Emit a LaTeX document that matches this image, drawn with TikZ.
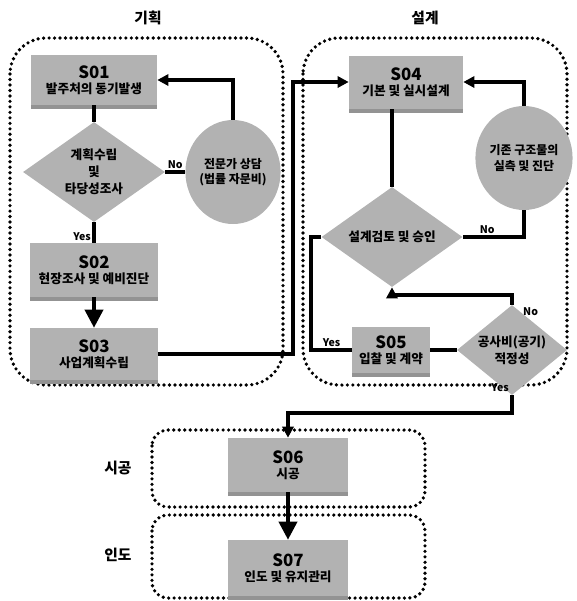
\documentclass[tikz,border=0pt]{standalone}
\usepackage{fontspec}
\setmainfont{Noto Sans CJK KR}
\usetikzlibrary{shapes}
\usetikzlibrary{shapes.geometric}
\usetikzlibrary{shadows}
\usetikzlibrary{arrows.meta}
\usetikzlibrary{positioning}

\newcommand{\steplabel}[2]{{\fontsize{12}{13}\selectfont #1}\\#2}

\begin{document}
\begin{tikzpicture}[x=0.25mm, y=-0.25mm]
	\tikzset{stepbox/.style = {shape=rectangle, fill=gray!60, inner sep=0pt, align=center,
			font=\fontsize{9}{11}\selectfont\bfseries,
			drop shadow={shadow xshift=0pt, shadow yshift=-1mm, fill=gray!85, opacity=1}}}
	\tikzset{decision/.style = {shape=diamond, fill=gray!60, inner sep=0pt, aspect=1.4,
			align=center, font=\fontsize{9}{12}\selectfont\bfseries}}
	\tikzset{source/.style = {shape=ellipse, fill=gray!60, inner sep=0pt, minimum width=22mm,
			minimum height=26mm, align=center, font=\fontsize{8.5}{11}\selectfont\bfseries}}
	\tikzset{phase/.style = {line width=2.6pt, dash pattern=on 0pt off 3.9pt, line cap=round}}
	\tikzset{title/.style = {font=\fontsize{10.5}{12}\selectfont\bfseries}}
	\tikzset{link/.style = {line width=2.6pt}}
	\tikzset{edge/.style = {link, -{Triangle[length=2.8mm, width=2.8mm]}}}
	\tikzset{bigedge/.style = {link, -{Triangle[length=4.5mm, width=4.5mm]}}}
	\tikzset{answer/.style = {font=\fontsize{7.5}{8}\selectfont\bfseries, inner sep=1pt}}

	\useasboundingbox (0,0) rectangle (577,601);

	% phases
	\draw[phase, rounded corners=9mm] (10,38) rectangle (283,385);
	\draw[phase, rounded corners=9mm] (303,38) rectangle (567,385);
	\draw[phase, rounded corners=4mm] (152,430) rectangle (425,507);
	\draw[phase, rounded corners=4mm] (152,515) rectangle (425,598);

	\node[title] (plan) at (148,18) {기획};
	\node[title] (design) at (425,18) {설계};
	\node[title] (build) at (118,468) {시공};
	\node[title] (handover) at (118,555) {인도};

	% steps
	\node[stepbox, minimum width=31.5mm, minimum height=12.5mm] (s1) at (94,80) {\steplabel{S01}{발주처의 동기발생}};
	\node[decision, minimum width=35.5mm, minimum height=25mm] (d1) at (94,172) {계획수립\\및\\타당성조사};
	\node[source] (c1) at (233,172) {전문가 상담\\(법률 자문비)};
	\node[stepbox, minimum width=31.75mm, minimum height=13.5mm] (s2) at (94,270) {\steplabel{S02}{현장조사 및 예비진단}};
	\node[stepbox, minimum width=31.75mm, minimum height=13mm] (s3) at (94,354) {\steplabel{S03}{사업계획수립}};
	\node[stepbox, minimum width=28.5mm, minimum height=13.25mm] (s4) at (406,82) {\steplabel{S04}{기본 및 실시설계}};
	\node[source] (c2) at (524,158) {기존 구조물의\\실측 및 진단};
	\node[decision, minimum width=35.25mm, minimum height=25mm] (d2) at (392,237) {설계검토 및 승인};
	\node[stepbox, minimum width=19.5mm, minimum height=11.5mm] (s5) at (391,350) {\steplabel{S05}{입찰 및 계약}};
	\node[decision, minimum width=27.5mm, minimum height=22.5mm] (d3) at (512,350) {공사비(공기)\\적정성};
	\node[stepbox, minimum width=30mm, minimum height=13.5mm] (s6) at (288,465) {\steplabel{S06}{시공}};
	\node[stepbox, minimum width=30mm, minimum height=14mm] (s7) at (288,568) {\steplabel{S07}{인도 및 유지관리}};

	% connectors
	\coordinate (turn) at (293,346);
	\draw[link] (s1) -- (d1);
	\draw[link] (d1) -- node[answer, above]{No} (c1);
	\draw[edge] (c1.north) |- (s1.east);
	\draw[link] (d1.south) -- node[answer, left, pos=0.7]{Yes} (s2.north);
	\draw[bigedge] (s2) -- (s3);
	\draw[edge] (s3.east) -- (s3.east -| turn) -- (s4.west -| turn) -- (s4.west);
	\draw[edge] (c2.north) |- (s4.east);
	\draw[link] (d2.north) -- (d2.north |- s4.south);
	\draw[link] (c2.south) |- node[answer, above, pos=0.8]{No} (d2.east);
	\draw[link] (d2.west) -- ++(-10,0) |- node[answer, above, pos=0.75]{Yes} (s5.west);
	\draw[link] (s5) -- (d3);
	\draw[edge] (d3.north) node[answer, below right, xshift=2mm]{No} -- ++(0,-10) -| (d2.south);
	\draw[edge] (d3.south) node[answer, above left]{Yes} -- ++(0,18) -| (s6.north);
	\draw[bigedge] (s6) -- (s7);
\end{tikzpicture}
\end{document}
